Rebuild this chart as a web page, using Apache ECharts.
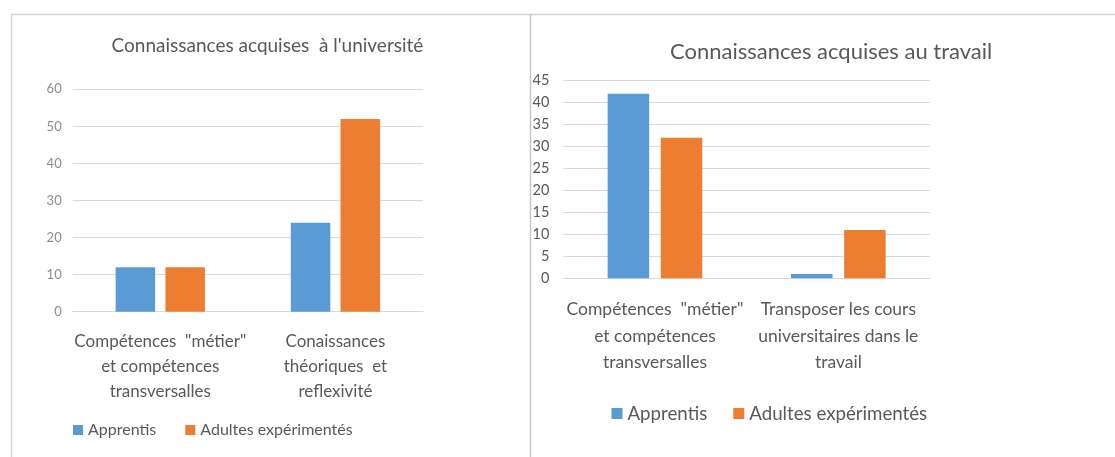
<!DOCTYPE html>
<html>
<head>
<meta charset="utf-8">
<script src="https://cdn.jsdelivr.net/npm/echarts@6/dist/echarts.min.js"></script>
<style>
html,body{margin:0;padding:0;background:#fff;}
#c{width:1115px;height:457px;}
</style>
</head>
<body>
<div id="c"></div>
<script>
// ---- Data ----
const seriesNames = ['Apprentis', 'Adultes expérimentés'];

const uniTitle = "Connaissances acquises  à l'université";
const uniCategories = ['Compétences  "métier"\net compétences\ntransversalles', 'Conaissances\nthéoriques  et\nreflexivité'];
const uniApprentis = [12, 24];
const uniAdultes = [12, 52];
const uniMax = 60, uniStep = 10;

const workTitle = 'Connaissances acquises au travail';
const workCategories = ['Compétences  "métier"\net compétences\ntransversalles', 'Transposer les cours\nuniversitaires dans le\ntravail'];
const workApprentis = [42, 1];
const workAdultes = [32, 11];
const workMax = 45, workStep = 5;

const BLUE = '#5b9bd5', ORANGE = '#ed7d31';
const FONT = 'Lato, "Open Sans", sans-serif';

const chart = echarts.init(document.getElementById('c'), null, {renderer: 'canvas'});

chart.setOption({
  backgroundColor: '#ffffff',
  animation: false,
  color: [BLUE, ORANGE],
  textStyle: {fontFamily: FONT},
  title: [
    {text: uniTitle, left: 106.5, top: 31, textStyle: {fontFamily: FONT, fontSize: 19, fontWeight: 'normal', color: '#595959'}},
    {text: workTitle, left: 665, top: 35.5, textStyle: {fontFamily: FONT, fontSize: 22, fontWeight: 'normal', color: '#595959'}}
  ],
  legend: [
    {data: seriesNames, left: 68, top: 417, icon: 'rect', itemWidth: 10, itemHeight: 10, itemGap: 29,
     textStyle: {fontFamily: FONT, fontSize: 16, color: '#595959'}},
    {data: seriesNames, left: 606.5, top: 399, icon: 'rect', itemWidth: 11, itemHeight: 11, itemGap: 26,
     textStyle: {fontFamily: FONT, fontSize: 18.7, color: '#595959'}}
  ],
  grid: [
    {left: 72.7, top: 89.3, width: 350.3, height: 222.4, containLabel: false},
    {left: 563.3, top: 80.7, width: 366.7, height: 197.6, containLabel: false}
  ],
  xAxis: [
    {type: 'category', gridIndex: 0, data: uniCategories,
     axisLine: {lineStyle: {color: '#d9d9d9', width: 1}}, axisTick: {show: false},
     axisLabel: {margin: 17, fontFamily: FONT, fontSize: 17, lineHeight: 25, color: '#595959', interval: 0}},
    {type: 'category', gridIndex: 1, data: workCategories,
     axisLine: {lineStyle: {color: '#d9d9d9', width: 1}}, axisTick: {show: false},
     axisLabel: {margin: 18, fontFamily: FONT, fontSize: 17.5, lineHeight: 26.5, color: '#595959', interval: 0}}
  ],
  yAxis: [
    {type: 'value', gridIndex: 0, min: 0, max: uniMax, interval: uniStep,
     axisLine: {show: false}, axisTick: {show: false},
     splitLine: {lineStyle: {color: '#d9d9d9', width: 1}},
     axisLabel: {margin: 11, fontFamily: FONT, fontSize: 13, color: '#8c8c8c'}},
    {type: 'value', gridIndex: 1, min: 0, max: workMax, interval: workStep,
     axisLine: {show: false}, axisTick: {show: false},
     splitLine: {lineStyle: {color: '#d9d9d9', width: 1}},
     axisLabel: {margin: 14, fontFamily: FONT, fontSize: 14.5, color: '#595959'}}
  ],
  series: [
    {name: seriesNames[0], type: 'bar', xAxisIndex: 0, yAxisIndex: 0, data: uniApprentis, barWidth: 39.5, barGap: '26%', itemStyle: {color: BLUE}},
    {name: seriesNames[1], type: 'bar', xAxisIndex: 0, yAxisIndex: 0, data: uniAdultes, barWidth: 39.5, barGap: '26%', itemStyle: {color: ORANGE}},
    {name: seriesNames[0], type: 'bar', xAxisIndex: 1, yAxisIndex: 1, data: workApprentis, barWidth: 41.5, barGap: '28%', itemStyle: {color: BLUE}},
    {name: seriesNames[1], type: 'bar', xAxisIndex: 1, yAxisIndex: 1, data: workAdultes, barWidth: 41.5, barGap: '28%', itemStyle: {color: ORANGE}}
  ],
  graphic: [
    {type: 'line', shape: {x1: 11, y1: 14.5, x2: 1115, y2: 14.5}, style: {stroke: '#d4d4d4', lineWidth: 1.5}, silent: true},
    {type: 'line', shape: {x1: 11.5, y1: 14, x2: 11.5, y2: 457}, style: {stroke: '#d4d4d4', lineWidth: 1.5}, silent: true},
    {type: 'line', shape: {x1: 530.5, y1: 14, x2: 530.5, y2: 457}, style: {stroke: '#c8c8c8', lineWidth: 1.5}, silent: true}
  ]
});
</script>
</body>
</html>
